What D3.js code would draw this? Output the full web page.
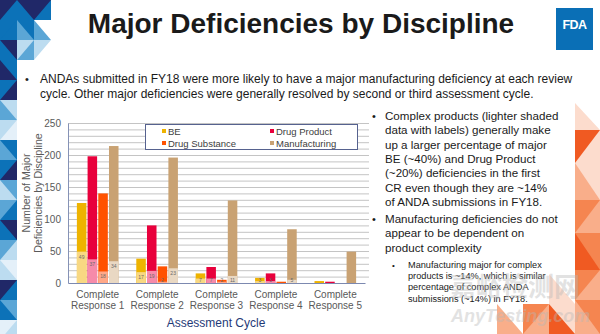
<!DOCTYPE html>
<html>
<head>
<meta charset="utf-8">
<script src="https://cdn.jsdelivr.net/npm/d3@7"></script>
<style>
  html, body { margin: 0; padding: 0; background: #fff; }
  svg { display: block; font-family: "Liberation Sans", Arial, sans-serif; }
</style>
</head>
<body>
<div id="slide"></div>
<script>
const cycles = ["Complete Response 1", "Complete Response 2", "Complete Response 3", "Complete Response 4", "Complete Response 5"];
const disciplines = ["BE", "Drug Product", "Drug Substance", "Manufacturing"];

// all major deficiencies per cycle
const beTotal = [125, 38, 15, 8, 3];
const dpTotal = [198, 90, 25, 15, 2];
const dsTotal = [140, 26, 5, 2, 0];
const mfgTotal = [214, 196, 129, 84, 49];

// complex products (lighter shaded, labelled)
const beComplex = [49, 17, 7, 3, 0];
const dpComplex = [37, 19, 7, 3, 0];
const dsComplex = [18, 2, 2, 0, 0];
const mfgComplex = [34, 23, 11, 5, 0];

const yTicks = [0, 50, 100, 150, 200, 250];

const darkColors = ["#EEB300", "#E8003C", "#FF5200", "#C9A273"];
const lightColors = ["#F8D882", "#F68AAA", "#FFA888", "#E9D8C3"];

const totals = [beTotal, dpTotal, dsTotal, mfgTotal];
const complexes = [beComplex, dpComplex, dsComplex, mfgComplex];

const width = 600;
const height = 334;

const svg = d3.select('#slide').append('svg')
    .attr('width', width)
    .attr('height', height);

// --- side decorations -------------------------------------------------
const navy = "#202868", blue = "#0C72B8", sky = "#5BA6D6", pale = "#BCDCF0", mist = "#E4F0F9";

function drawCell(g, x, y, w, h, a, b, flip) {
    g.append('rect').attr('x', x).attr('y', y).attr('width', w).attr('height', h).attr('fill', a);
    const pts = flip
        ? [[x, y], [x + w, y + h], [x, y + h]]
        : [[x, y], [x + w, y], [x, y + h]];
    g.append('polygon').attr('points', pts.map(p => p.join(',')).join(' ')).attr('fill', b);
}

const leftDeco = svg.append('g');
const topBlock = [
    [0, 0, blue, navy, false], [17, 0, navy, blue, true], [34, 0, blue, navy, false],
    [0, 20, blue, blue, false], [17, 20, blue, sky, true], [34, 20, "#fff", sky, true],
    [0, 40, navy, blue, true], [17, 40, sky, pale, false], [34, 40, "#fff", pale, false]
];
topBlock.forEach(c => drawCell(leftDeco, c[0], c[1], 17, 20, c[2], c[3], c[4]));

const stripCells = [
    [blue, navy, true], [navy, blue, false], [pale, sky, true], [mist, pale, false],
    [blue, sky, true], [navy, blue, false], [sky, pale, true], [blue, sky, false],
    [navy, blue, true], [pale, sky, false], [mist, pale, true], [blue, navy, false],
    [sky, blue, true], [pale, mist, false]
];
stripCells.forEach((c, i) => drawCell(leftDeco, 0, 60 + i * 20, 17, 20, c[0], c[1], c[2]));

const deep = "#F05A22", mid = "#F58550", soft = "#F9AE8A", blush = "#FCDCCD";
const rightDeco = svg.append('g');
const orangeCells = [
    [103, "#fff", blush, true], [130, blush, deep, false], [163, blush, soft, true],
    [200, soft, mid, false], [233, mid, deep, true], [270, soft, mid, false], [300, mid, soft, true]
];
orangeCells.forEach((c, i) => {
    const h = (i < orangeCells.length - 1 ? orangeCells[i + 1][0] : 334) - c[0];
    drawCell(rightDeco, 575, c[0], 25, h, c[1], c[2], c[3]);
});
const bottomCells = [
    [497, 304, "#fff", soft, true], [523, 304, soft, mid, false], [549, 304, blush, deep, true],
    [549, 274, "#fff", blush, true]
];
bottomCells.forEach(c => drawCell(rightDeco, c[0], c[1], 26, 334 - c[1] > 30 ? 30 : 334 - c[1], c[2], c[3], c[4]));

// FDA logo
svg.append('rect').attr('x', 556).attr('y', 8).attr('width', 37).attr('height', 42).attr('fill', '#0A6FB6');
svg.append('text').attr('x', 574.5).attr('y', 29).attr('text-anchor', 'middle')
    .attr('font-size', 12.5).attr('font-weight', 'bold').attr('fill', '#fff')
    .attr('letter-spacing', -0.6).text('FDA');

// --- title and text ----------------------------------------------------
svg.append('text').attr('x', 301).attr('y', 33).attr('text-anchor', 'middle')
    .attr('font-size', 28).attr('font-weight', 'bold').attr('fill', '#1a1a1a')
    .text('Major Deficiencies by Discipline');

const intro = [
    "ANDAs submitted in FY18 were more likely to have a major manufacturing deficiency at each review",
    "cycle. Other major deficiencies were generally resolved by second or third assessment cycle."
];
svg.append('text').attr('x', 25).attr('y', 83).attr('font-size', 11).attr('fill', '#222').text('•');
svg.selectAll('.intro').data(intro).enter().append('text')
    .attr('x', 40).attr('y', (d, i) => 83 + i * 14.5)
    .attr('font-size', 12).attr('fill', '#1a1a1a').text(d => d);

const notesA = [
    "Complex products (lighter shaded",
    "data with labels) generally make",
    "up a larger percentage of major",
    "BE (~40%) and Drug Product",
    "(~20%) deficiencies in the first",
    "CR even though they are ~14%",
    "of ANDA submissions in FY18."
];
const notesB = [
    "Manufacturing deficiencies do not",
    "appear to be dependent on",
    "product complexity"
];
const notesC = [
    "Manufacturing major for complex",
    "products is ~14%, which is similar",
    "percentage of complex ANDA",
    "submissions (~14%) in FY18."
];
const notes = svg.append('g').attr('fill', '#1a1a1a');
notes.append('text').attr('x', 372).attr('y', 120).attr('font-size', 11).text('•');
notes.append('text').attr('x', 372).attr('y', 223).attr('font-size', 11).text('•');
notes.append('text').attr('x', 392).attr('y', 268).attr('font-size', 8).text('•');
notesA.forEach((t, i) => notes.append('text').attr('x', 385).attr('y', 120 + i * 14.3).attr('font-size', 11.6).text(t));
notesB.forEach((t, i) => notes.append('text').attr('x', 385).attr('y', 223 + i * 14.3).attr('font-size', 11.6).text(t));
notesC.forEach((t, i) => notes.append('text').attr('x', 408).attr('y', 268 + i * 11.2).attr('font-size', 9.2).text(t));

// --- chart ---------------------------------------------------------------
const plot = { left: 68, right: 365, top: 123, bottom: 283 };

const x0 = d3.scaleBand().domain(cycles).range([plot.left, plot.right]);
const x1 = d3.scaleBand().domain(disciplines).range([0, x0.bandwidth()])
    .paddingInner(0.11).paddingOuter(0.83);
const y = d3.scaleLinear().domain([0, 250]).range([plot.bottom, plot.top]);

const chart = svg.append('g');

chart.append('g').selectAll('line').data(d3.range(10, 251, 10)).enter().append('line')
    .attr('x1', plot.left).attr('x2', plot.right + 4)
    .attr('y1', d => y(d) + 0.5).attr('y2', d => y(d) + 0.5)
    .attr('stroke', '#C4C4C4').attr('stroke-width', 1);

const groups = chart.selectAll('.cycle').data(cycles).enter().append('g')
    .attr('transform', d => `translate(${x0(d)},0)`);

disciplines.forEach((disc, k) => {
    groups.append('rect')
        .attr('x', x1(disc)).attr('width', x1.bandwidth())
        .attr('y', (d, i) => y(totals[k][i]))
        .attr('height', (d, i) => y(0) - y(totals[k][i]))
        .attr('fill', darkColors[k]);
    groups.append('rect')
        .attr('x', x1(disc)).attr('width', x1.bandwidth())
        .attr('y', (d, i) => y(complexes[k][i]))
        .attr('height', (d, i) => y(0) - y(complexes[k][i]))
        .attr('fill', lightColors[k]);
    groups.filter((d, i) => complexes[k][i] > 0).append('text')
        .attr('x', x1(disc) + x1.bandwidth() / 2)
        .attr('y', d => Math.min(y(complexes[k][cycles.indexOf(d)]) + 7, plot.bottom - 1))
        .attr('text-anchor', 'middle').attr('font-size', 5).attr('fill', '#6a6a6a')
        .text(d => complexes[k][cycles.indexOf(d)]);
});

// axes
const yAxis = chart.append('g').attr('transform', `translate(${plot.left},0)`)
    .call(d3.axisLeft(y).tickValues(yTicks).tickSize(0).tickPadding(7));
yAxis.select('.domain').attr('stroke', '#8592B6');
yAxis.selectAll('text').attr('font-size', 10).attr('fill', '#595959')
    .attr('font-family', '"Liberation Sans", Arial, sans-serif');

const xAxis = chart.append('g').attr('transform', `translate(0,${plot.bottom})`)
    .call(d3.axisBottom(x0).tickSize(0).tickFormat(''));
xAxis.select('.domain').attr('stroke', '#7C89B0');

chart.append('g').selectAll('text').data(cycles).enter().append('text')
    .attr('x', d => x0(d) + x0.bandwidth() / 2)
    .attr('text-anchor', 'middle').attr('font-size', 10).attr('fill', '#595959')
    .each(function (d) {
        const parts = [d.slice(0, 8), d.slice(9)];
        d3.select(this).selectAll('tspan').data(parts).enter().append('tspan')
            .attr('x', x0(d) + x0.bandwidth() / 2)
            .attr('y', (p, j) => 298 + j * 11)
            .text(p => p);
    });

chart.append('text').attr('x', 216).attr('y', 327).attr('text-anchor', 'middle')
    .attr('font-size', 12).attr('fill', '#1F3A78').text('Assessment Cycle');

const yTitle = chart.append('text')
    .attr('transform', 'translate(0,193) rotate(-90)')
    .attr('text-anchor', 'middle').attr('font-size', 10.6).attr('fill', '#595959');
yTitle.append('tspan').attr('x', 0).attr('y', 30).text('Number of Major');
yTitle.append('tspan').attr('x', 0).attr('y', 42).text('Deficiencies by Discipline');

// legend
const legend = chart.append('g');
legend.append('rect').attr('x', 145.5).attr('y', 124.5).attr('width', 212).attr('height', 25)
    .attr('fill', '#fff').attr('stroke', '#56628F').attr('stroke-width', 1);
const legendPos = [[164, 131], [272, 131], [164, 143], [272, 143]];
disciplines.forEach((disc, k) => {
    legend.append('rect').attr('x', legendPos[k][0] - 2).attr('y', legendPos[k][1] - 2)
        .attr('width', 4).attr('height', 4).attr('fill', darkColors[k]);
    legend.append('text').attr('x', legendPos[k][0] + 4).attr('y', legendPos[k][1] + 3.5)
        .attr('font-size', 9.5).attr('fill', '#404040').text(disc);
});

// watermark
const mark = svg.append('g').attr('fill', '#B8B8B8').attr('opacity', 0.4);
mark.append('text').attr('x', 450).attr('y', 296).attr('font-size', 26)
    .attr('font-family', '"Noto Sans CJK SC", sans-serif').attr('font-weight', 'bold').text('嘉峪检测网');
mark.append('text').attr('x', 451).attr('y', 322).attr('font-size', 18)
    .attr('font-style', 'italic').attr('font-weight', 'bold').text('AnyTesting.com');
</script>
</body>
</html>
